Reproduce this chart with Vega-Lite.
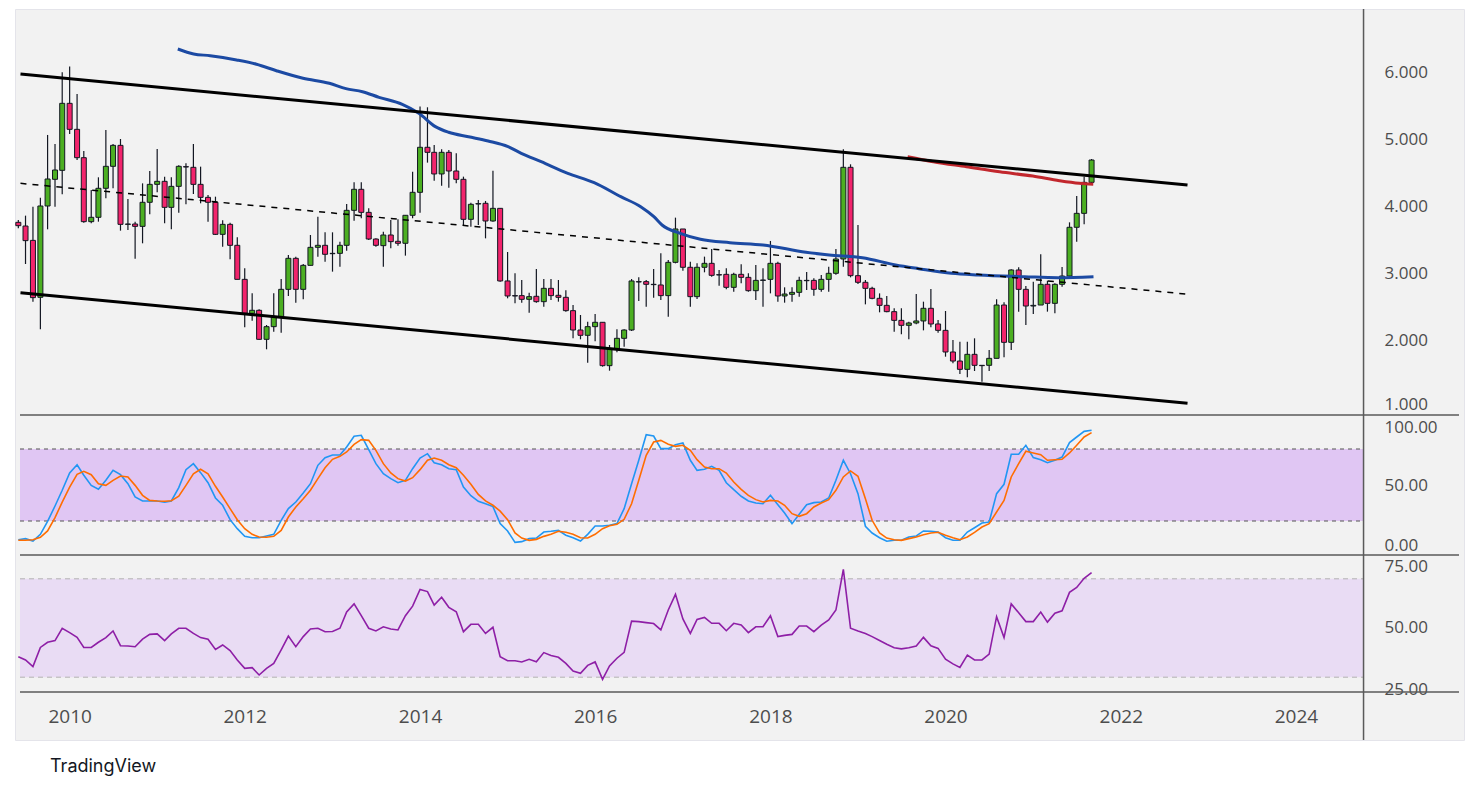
{
  "$schema": "https://vega.github.io/schema/vega-lite/v6.json",
  "width": 1449,
  "height": 731,
  "autosize": {"type": "none"},
  "padding": {"left": 15, "top": 9, "right": 15, "bottom": 53},
  "background": "#ffffff",
  "title": {"text": "TradingView", "orient": "bottom", "anchor": "start", "dx": 35, "offset": 17, "font": "Inter", "fontSize": 18, "fontWeight": "normal", "color": "#131722"},
  "config": {
    "view": {"fill": "#f2f2f2", "stroke": "#e4e4ea"},
    "axis": {"domain": false, "ticks": false, "tickSize": 0, "grid": false, "labelFont": "Open Sans", "labelFontSize": 19, "labelColor": "#4d4d4d", "labelFlush": false, "labelBound": false, "labelOverlap": false},
    "axisY": {"labelFontSize": 17}
  },
  "datasets": {
    "bars": [
      {"d":"2009-06-01","o":3.771,"h":3.806,"l":3.682,"c":3.721,"sk":4.4,"sd":3.9,"rsi":38.3},
      {"d":"2009-07-01","o":3.716,"h":3.871,"l":3.149,"c":3.498,"sk":5.3,"sd":3.9,"rsi":37},
      {"d":"2009-08-01","o":3.502,"h":4.005,"l":2.587,"c":2.647,"sk":3.3,"sd":4.4,"rsi":34.3},
      {"d":"2009-09-01","o":2.652,"h":4.139,"l":2.174,"c":4.015,"sk":8.9,"sd":6.4,"rsi":42.1},
      {"d":"2009-10-01","o":4.015,"h":5.075,"l":3.667,"c":4.418,"sk":19.7,"sd":11.7,"rsi":44.2},
      {"d":"2009-11-01","o":4.413,"h":4.94,"l":4.005,"c":4.552,"sk":32.5,"sd":22.8,"rsi":44.9},
      {"d":"2009-12-01","o":4.547,"h":6.01,"l":4.189,"c":5.547,"sk":45.6,"sd":35.8,"rsi":49.9},
      {"d":"2010-01-01","o":5.547,"h":6.095,"l":5.09,"c":5.159,"sk":60,"sd":48.3,"rsi":48.1},
      {"d":"2010-02-01","o":5.159,"h":5.687,"l":4.701,"c":4.736,"sk":66.9,"sd":58.9,"rsi":46.2},
      {"d":"2010-03-01","o":4.736,"h":4.836,"l":3.766,"c":3.781,"sk":58.1,"sd":61.4,"rsi":42.1},
      {"d":"2010-04-01","o":3.781,"h":4.254,"l":3.756,"c":3.846,"sk":49.7,"sd":58.6,"rsi":42.1},
      {"d":"2010-05-01","o":3.846,"h":4.443,"l":3.781,"c":4.279,"sk":46.4,"sd":51.1,"rsi":44.2},
      {"d":"2010-06-01","o":4.279,"h":5.149,"l":4.129,"c":4.607,"sk":53.9,"sd":49.7,"rsi":46.1},
      {"d":"2010-07-01","o":4.607,"h":4.94,"l":4.279,"c":4.92,"sk":62.2,"sd":53.9,"rsi":48.8},
      {"d":"2010-08-01","o":4.92,"h":5.015,"l":3.647,"c":3.741,"sk":58.6,"sd":57.5,"rsi":42.8},
      {"d":"2010-09-01","o":3.741,"h":4.119,"l":3.657,"c":3.746,"sk":51.1,"sd":56.7,"rsi":42.7},
      {"d":"2010-10-01","o":3.746,"h":3.781,"l":3.229,"c":3.711,"sk":40,"sd":49.7,"rsi":42.4},
      {"d":"2010-11-01","o":3.711,"h":4.353,"l":3.458,"c":4.07,"sk":36.7,"sd":41.4,"rsi":45.5},
      {"d":"2010-12-01","o":4.07,"h":4.537,"l":3.891,"c":4.338,"sk":36.7,"sd":37.2,"rsi":47.4},
      {"d":"2011-01-01","o":4.338,"h":4.866,"l":4.219,"c":4.383,"sk":36.7,"sd":36.7,"rsi":47.6},
      {"d":"2011-02-01","o":4.383,"h":4.453,"l":3.756,"c":3.995,"sk":35.6,"sd":36.4,"rsi":44.9},
      {"d":"2011-03-01","o":3.995,"h":4.443,"l":3.667,"c":4.308,"sk":36.7,"sd":36.9,"rsi":47.6},
      {"d":"2011-04-01","o":4.308,"h":4.622,"l":3.915,"c":4.607,"sk":47.8,"sd":40.6,"rsi":49.9},
      {"d":"2011-05-01","o":4.602,"h":4.652,"l":4.04,"c":4.597,"sk":62.8,"sd":49.7,"rsi":49.9},
      {"d":"2011-06-01","o":4.592,"h":4.94,"l":4.194,"c":4.338,"sk":67.8,"sd":59.4,"rsi":47.8},
      {"d":"2011-07-01","o":4.338,"h":4.602,"l":4.055,"c":4.144,"sk":60.3,"sd":63.1,"rsi":46.1},
      {"d":"2011-08-01","o":4.144,"h":4.179,"l":3.781,"c":4.07,"sk":51.9,"sd":59.4,"rsi":45.4},
      {"d":"2011-09-01","o":4.07,"h":4.154,"l":3.582,"c":3.592,"sk":39.2,"sd":48.9,"rsi":41.3},
      {"d":"2011-10-01","o":3.592,"h":3.801,"l":3.408,"c":3.741,"sk":33.1,"sd":40,"rsi":43.1},
      {"d":"2011-11-01","o":3.741,"h":3.766,"l":3.219,"c":3.428,"sk":21.1,"sd":30.3,"rsi":40.8},
      {"d":"2011-12-01","o":3.428,"h":3.547,"l":2.92,"c":2.92,"sk":13.6,"sd":21.1,"rsi":37},
      {"d":"2012-01-01","o":2.92,"h":3.085,"l":2.204,"c":2.413,"sk":7.2,"sd":13.6,"rsi":33.6},
      {"d":"2012-02-01","o":2.413,"h":2.711,"l":2.303,"c":2.458,"sk":6.1,"sd":8.9,"rsi":33.9},
      {"d":"2012-03-01","o":2.458,"h":2.473,"l":2.015,"c":2.025,"sk":6.1,"sd":6.7,"rsi":30.9},
      {"d":"2012-04-01","o":2.025,"h":2.239,"l":1.876,"c":2.214,"sk":7.5,"sd":6.4,"rsi":33.6},
      {"d":"2012-05-01","o":2.214,"h":2.711,"l":2.139,"c":2.353,"sk":8.9,"sd":7.2,"rsi":35.6},
      {"d":"2012-06-01","o":2.353,"h":2.925,"l":2.124,"c":2.771,"sk":20.6,"sd":12.2,"rsi":41.1},
      {"d":"2012-07-01","o":2.771,"h":3.284,"l":2.672,"c":3.234,"sk":30.3,"sd":23.3,"rsi":46.7},
      {"d":"2012-08-01","o":3.234,"h":3.259,"l":2.572,"c":2.771,"sk":35.8,"sd":31.7,"rsi":42.4},
      {"d":"2012-09-01","o":2.771,"h":3.149,"l":2.622,"c":3.129,"sk":43.3,"sd":38.6,"rsi":46.5},
      {"d":"2012-10-01","o":3.129,"h":3.582,"l":3.129,"c":3.398,"sk":51.1,"sd":45.6,"rsi":49.6},
      {"d":"2012-11-01","o":3.398,"h":3.856,"l":3.259,"c":3.428,"sk":66.4,"sd":55.3,"rsi":49.9},
      {"d":"2012-12-01","o":3.428,"h":3.622,"l":3.184,"c":3.294,"sk":72.8,"sd":64.4,"rsi":48.5},
      {"d":"2013-01-01","o":3.303,"h":3.622,"l":3.035,"c":3.308,"sk":75,"sd":71.4,"rsi":48.6},
      {"d":"2013-02-01","o":3.308,"h":3.483,"l":3.109,"c":3.428,"sk":75,"sd":73.9,"rsi":49.9},
      {"d":"2013-03-01","o":3.428,"h":4.045,"l":3.348,"c":3.95,"sk":81.7,"sd":77.5,"rsi":56.5},
      {"d":"2013-04-01","o":3.95,"h":4.368,"l":3.796,"c":4.264,"sk":90.6,"sd":83.9,"rsi":59.8},
      {"d":"2013-05-01","o":4.264,"h":4.368,"l":3.831,"c":3.92,"sk":91.4,"sd":87.8,"rsi":55},
      {"d":"2013-06-01","o":3.92,"h":3.98,"l":3.507,"c":3.522,"sk":79.4,"sd":87.2,"rsi":49.9},
      {"d":"2013-07-01","o":3.522,"h":3.532,"l":3.408,"c":3.428,"sk":67.8,"sd":78.9,"rsi":48.8},
      {"d":"2013-08-01","o":3.423,"h":3.632,"l":3.109,"c":3.582,"sk":59.4,"sd":67.8,"rsi":50.5},
      {"d":"2013-09-01","o":3.582,"h":3.806,"l":3.383,"c":3.483,"sk":55.3,"sd":60,"rsi":49.6},
      {"d":"2013-10-01","o":3.488,"h":3.816,"l":3.423,"c":3.458,"sk":51.9,"sd":55.3,"rsi":49.2},
      {"d":"2013-11-01","o":3.458,"h":3.876,"l":3.274,"c":3.876,"sk":53.9,"sd":53.3,"rsi":55},
      {"d":"2013-12-01","o":3.876,"h":4.527,"l":3.831,"c":4.219,"sk":63.6,"sd":56.1,"rsi":58.9},
      {"d":"2014-01-01","o":4.219,"h":5.498,"l":3.915,"c":4.891,"sk":72.5,"sd":62.8,"rsi":65.7},
      {"d":"2014-02-01","o":4.891,"h":5.488,"l":4.662,"c":4.816,"sk":76.1,"sd":70.6,"rsi":64.8},
      {"d":"2014-03-01","o":4.816,"h":4.925,"l":4.393,"c":4.493,"sk":68.6,"sd":72.5,"rsi":59.3},
      {"d":"2014-04-01","o":4.493,"h":4.861,"l":4.318,"c":4.816,"sk":66.9,"sd":70.6,"rsi":62.5},
      {"d":"2014-05-01","o":4.816,"h":4.851,"l":4.289,"c":4.537,"sk":63.6,"sd":66.9,"rsi":58.4},
      {"d":"2014-06-01","o":4.537,"h":4.801,"l":4.353,"c":4.413,"sk":62.8,"sd":64.4,"rsi":56.6},
      {"d":"2014-07-01","o":4.413,"h":4.453,"l":3.731,"c":3.816,"sk":48.3,"sd":58.1,"rsi":48.5},
      {"d":"2014-08-01","o":3.816,"h":4.065,"l":3.706,"c":4.04,"sk":41.1,"sd":50.6,"rsi":51.5},
      {"d":"2014-09-01","o":4.045,"h":4.104,"l":3.731,"c":4.05,"sk":36.4,"sd":42.2,"rsi":51.5},
      {"d":"2014-10-01","o":4.055,"h":4.09,"l":3.532,"c":3.791,"sk":34.3,"sd":36.7,"rsi":47.8},
      {"d":"2014-11-01","o":3.791,"h":4.542,"l":3.781,"c":3.98,"sk":32,"sd":33.1,"rsi":50.3},
      {"d":"2014-12-01","o":3.98,"h":3.98,"l":2.886,"c":2.896,"sk":17.8,"sd":28.2,"rsi":38.3},
      {"d":"2015-01-01","o":2.896,"h":3.328,"l":2.637,"c":2.672,"sk":11.7,"sd":21.1,"rsi":36.7},
      {"d":"2015-02-01","o":2.677,"h":3.01,"l":2.562,"c":2.672,"sk":2.2,"sd":10,"rsi":36.7},
      {"d":"2015-03-01","o":2.677,"h":2.91,"l":2.572,"c":2.622,"sk":2.8,"sd":5.8,"rsi":36.2},
      {"d":"2015-04-01","o":2.622,"h":2.721,"l":2.423,"c":2.662,"sk":5.3,"sd":3.9,"rsi":37.3},
      {"d":"2015-05-01","o":2.667,"h":3.075,"l":2.572,"c":2.587,"sk":5.8,"sd":4.7,"rsi":36.3},
      {"d":"2015-06-01","o":2.587,"h":2.925,"l":2.512,"c":2.786,"sk":10.8,"sd":7.2,"rsi":40},
      {"d":"2015-07-01","o":2.786,"h":2.925,"l":2.612,"c":2.677,"sk":11.4,"sd":8.9,"rsi":38.8},
      {"d":"2015-08-01","o":2.682,"h":2.91,"l":2.587,"c":2.652,"sk":12.2,"sd":11.4,"rsi":38.1},
      {"d":"2015-09-01","o":2.652,"h":2.756,"l":2.438,"c":2.453,"sk":8.1,"sd":10.6,"rsi":35.6},
      {"d":"2015-10-01","o":2.453,"h":2.537,"l":2.04,"c":2.164,"sk":6.1,"sd":8.9,"rsi":32.5},
      {"d":"2015-11-01","o":2.164,"h":2.388,"l":2.025,"c":2.085,"sk":3.3,"sd":6.1,"rsi":31.6},
      {"d":"2015-12-01","o":2.085,"h":2.289,"l":1.677,"c":2.214,"sk":8.9,"sd":5.8,"rsi":34.8},
      {"d":"2016-01-01","o":2.214,"h":2.403,"l":1.995,"c":2.279,"sk":15.8,"sd":8.9,"rsi":36.2},
      {"d":"2016-02-01","o":2.279,"h":2.279,"l":1.617,"c":1.632,"sk":15.8,"sd":13.6,"rsi":29.1},
      {"d":"2016-03-01","o":1.632,"h":1.94,"l":1.557,"c":1.881,"sk":16.4,"sd":16.1,"rsi":34.6},
      {"d":"2016-04-01","o":1.881,"h":2.174,"l":1.831,"c":2.04,"sk":17.8,"sd":17.2,"rsi":37.7},
      {"d":"2016-05-01","o":2.04,"h":2.174,"l":1.915,"c":2.164,"sk":30.3,"sd":21.4,"rsi":40.1},
      {"d":"2016-06-01","o":2.164,"h":2.925,"l":2.149,"c":2.896,"sk":51.1,"sd":34.4,"rsi":52.8},
      {"d":"2016-07-01","o":2.881,"h":2.95,"l":2.597,"c":2.886,"sk":70.6,"sd":53.9,"rsi":52.6},
      {"d":"2016-08-01","o":2.886,"h":2.91,"l":2.512,"c":2.846,"sk":91.9,"sd":74.7,"rsi":52.2},
      {"d":"2016-09-01","o":2.846,"h":3.075,"l":2.647,"c":2.841,"sk":90.8,"sd":85.8,"rsi":51.8},
      {"d":"2016-10-01","o":2.836,"h":3.308,"l":2.612,"c":2.677,"sk":80.3,"sd":87.2,"rsi":49.2},
      {"d":"2016-11-01","o":2.677,"h":3.209,"l":2.363,"c":3.174,"sk":80.3,"sd":83.9,"rsi":57.3},
      {"d":"2016-12-01","o":3.174,"h":3.841,"l":3.159,"c":3.672,"sk":83.6,"sd":82.2,"rsi":63.7},
      {"d":"2017-01-01","o":3.672,"h":3.672,"l":3.05,"c":3.1,"sk":85,"sd":83.1,"rsi":53.7},
      {"d":"2017-02-01","o":3.1,"h":3.184,"l":2.512,"c":2.662,"sk":70.6,"sd":78.9,"rsi":47.8},
      {"d":"2017-03-01","o":2.662,"h":3.159,"l":2.627,"c":3.1,"sk":62.2,"sd":71.1,"rsi":53.5},
      {"d":"2017-04-01","o":3.1,"h":3.259,"l":3.025,"c":3.159,"sk":63.1,"sd":65,"rsi":54.3},
      {"d":"2017-05-01","o":3.159,"h":3.373,"l":2.96,"c":2.98,"sk":65.6,"sd":63.6,"rsi":51.9},
      {"d":"2017-06-01","o":2.99,"h":3.06,"l":2.826,"c":2.985,"sk":62.2,"sd":63.6,"rsi":51.9},
      {"d":"2017-07-01","o":2.995,"h":3.085,"l":2.771,"c":2.801,"sk":51.9,"sd":60,"rsi":48.9},
      {"d":"2017-08-01","o":2.801,"h":3.02,"l":2.736,"c":2.995,"sk":46.1,"sd":52.5,"rsi":51.9},
      {"d":"2017-09-01","o":2.995,"h":3.144,"l":2.861,"c":2.95,"sk":40.6,"sd":46.4,"rsi":51.2},
      {"d":"2017-10-01","o":2.95,"h":3.01,"l":2.736,"c":2.751,"sk":36.7,"sd":41.4,"rsi":48.1},
      {"d":"2017-11-01","o":2.751,"h":3.134,"l":2.612,"c":2.905,"sk":35,"sd":37.8,"rsi":50.5},
      {"d":"2017-12-01","o":2.905,"h":3.085,"l":2.512,"c":2.91,"sk":34.4,"sd":35.8,"rsi":50.5},
      {"d":"2018-01-01","o":2.92,"h":3.493,"l":2.711,"c":3.159,"sk":41.4,"sd":37.2,"rsi":55},
      {"d":"2018-02-01","o":3.159,"h":3.184,"l":2.587,"c":2.672,"sk":33.6,"sd":36.7,"rsi":46.5},
      {"d":"2018-03-01","o":2.672,"h":2.801,"l":2.572,"c":2.701,"sk":26.7,"sd":33.1,"rsi":47},
      {"d":"2018-04-01","o":2.697,"h":2.801,"l":2.587,"c":2.726,"sk":17.8,"sd":26.1,"rsi":47.4},
      {"d":"2018-05-01","o":2.726,"h":2.96,"l":2.662,"c":2.905,"sk":25.6,"sd":23.9,"rsi":50.8},
      {"d":"2018-06-01","o":2.9,"h":3.03,"l":2.761,"c":2.905,"sk":33.6,"sd":26.1,"rsi":50.8},
      {"d":"2018-07-01","o":2.905,"h":2.935,"l":2.677,"c":2.771,"sk":35.3,"sd":31.7,"rsi":48.5},
      {"d":"2018-08-01","o":2.771,"h":2.985,"l":2.736,"c":2.92,"sk":35.8,"sd":35,"rsi":51.2},
      {"d":"2018-09-01","o":2.92,"h":3.109,"l":2.736,"c":3.01,"sk":39.2,"sd":37.8,"rsi":53.3},
      {"d":"2018-10-01","o":3.01,"h":3.373,"l":2.99,"c":3.224,"sk":53.9,"sd":45.6,"rsi":57.3},
      {"d":"2018-11-01","o":3.224,"h":4.861,"l":3.109,"c":4.592,"sk":70.6,"sd":56.7,"rsi":73.8},
      {"d":"2018-12-01","o":4.592,"h":4.637,"l":2.95,"c":2.975,"sk":59.4,"sd":61.7,"rsi":49.9},
      {"d":"2019-01-01","o":2.975,"h":3.731,"l":2.851,"c":2.876,"sk":42.8,"sd":57.2,"rsi":48.8},
      {"d":"2019-02-01","o":2.876,"h":2.91,"l":2.547,"c":2.786,"sk":15.6,"sd":38.6,"rsi":47.8},
      {"d":"2019-03-01","o":2.786,"h":2.811,"l":2.622,"c":2.637,"sk":10,"sd":20.6,"rsi":46.5},
      {"d":"2019-04-01","o":2.637,"h":2.711,"l":2.428,"c":2.532,"sk":6.1,"sd":10,"rsi":44.9},
      {"d":"2019-05-01","o":2.532,"h":2.672,"l":2.428,"c":2.438,"sk":3.1,"sd":5.8,"rsi":43.4},
      {"d":"2019-06-01","o":2.438,"h":2.488,"l":2.139,"c":2.308,"sk":3.9,"sd":4.4,"rsi":42},
      {"d":"2019-07-01","o":2.308,"h":2.488,"l":2.1,"c":2.234,"sk":3.9,"sd":3.9,"rsi":41.5},
      {"d":"2019-08-01","o":2.234,"h":2.289,"l":2.025,"c":2.269,"sk":6.7,"sd":5.3,"rsi":42},
      {"d":"2019-09-01","o":2.269,"h":2.701,"l":2.249,"c":2.299,"sk":7.5,"sd":6.7,"rsi":42.7},
      {"d":"2019-10-01","o":2.299,"h":2.587,"l":2.159,"c":2.488,"sk":11.7,"sd":8.6,"rsi":46.2},
      {"d":"2019-11-01","o":2.488,"h":2.776,"l":2.204,"c":2.254,"sk":11.4,"sd":10,"rsi":42.8},
      {"d":"2019-12-01","o":2.254,"h":2.313,"l":2.124,"c":2.159,"sk":10.8,"sd":10.6,"rsi":41.7},
      {"d":"2020-01-01","o":2.159,"h":2.448,"l":1.766,"c":1.836,"sk":6.1,"sd":8.1,"rsi":37.3},
      {"d":"2020-02-01","o":1.836,"h":2.015,"l":1.667,"c":1.701,"sk":3.9,"sd":6.1,"rsi":35.4},
      {"d":"2020-03-01","o":1.701,"h":1.99,"l":1.507,"c":1.577,"sk":3.9,"sd":4.4,"rsi":34},
      {"d":"2020-04-01","o":1.577,"h":1.99,"l":1.458,"c":1.801,"sk":10.8,"sd":6.7,"rsi":39},
      {"d":"2020-05-01","o":1.801,"h":2.04,"l":1.552,"c":1.637,"sk":14.4,"sd":10.5,"rsi":37},
      {"d":"2020-06-01","o":1.637,"h":1.637,"l":1.393,"c":1.632,"sk":18.3,"sd":15,"rsi":37},
      {"d":"2020-07-01","o":1.637,"h":1.866,"l":1.552,"c":1.741,"sk":19.2,"sd":17.8,"rsi":39.4},
      {"d":"2020-08-01","o":1.741,"h":2.622,"l":1.741,"c":2.537,"sk":42.8,"sd":27.5,"rsi":54.6},
      {"d":"2020-09-01","o":2.537,"h":2.577,"l":1.756,"c":1.98,"sk":50.6,"sd":37.2,"rsi":46.1},
      {"d":"2020-10-01","o":1.98,"h":3.07,"l":1.866,"c":3.06,"sk":75.6,"sd":56.7,"rsi":59.8},
      {"d":"2020-11-01","o":3.06,"h":3.1,"l":2.438,"c":2.771,"sk":75.6,"sd":67.8,"rsi":56.2},
      {"d":"2020-12-01","o":2.771,"h":2.821,"l":2.239,"c":2.522,"sk":83.1,"sd":78.1,"rsi":52.6},
      {"d":"2021-01-01","o":2.522,"h":2.886,"l":2.403,"c":2.532,"sk":72.8,"sd":76.7,"rsi":52.6},
      {"d":"2021-02-01","o":2.537,"h":3.294,"l":2.537,"c":2.846,"sk":71.1,"sd":75.3,"rsi":56.5},
      {"d":"2021-03-01","o":2.846,"h":2.9,"l":2.438,"c":2.562,"sk":68.6,"sd":70.6,"rsi":52.4},
      {"d":"2021-04-01","o":2.562,"h":2.861,"l":2.413,"c":2.846,"sk":70.6,"sd":71.1,"rsi":56},
      {"d":"2021-05-01","o":2.846,"h":3.104,"l":2.811,"c":2.97,"sk":73.3,"sd":71.4,"rsi":57},
      {"d":"2021-06-01","o":2.97,"h":3.771,"l":2.935,"c":3.697,"sk":85.3,"sd":76.7,"rsi":64.5},
      {"d":"2021-07-01","o":3.697,"h":4.164,"l":3.483,"c":3.905,"sk":90,"sd":83.1,"rsi":66.5},
      {"d":"2021-08-01","o":3.905,"h":4.453,"l":3.741,"c":4.368,"sk":94.7,"sd":90,"rsi":70.2},
      {"d":"2021-09-01","o":4.368,"h":4.716,"l":4.328,"c":4.701,"sk":95.6,"sd":93.6,"rsi":72.5}
    ],
    "ch": [
      {"d":"2009-06-10","up":5.985,"lo":2.721,"mid":4.353},
      {"d":"2022-10-06","up":4.328,"lo":1.07,"mid":2.699}
    ],
    "ma": [
      {"d":"2011-03-28","v":6.358},{"d":"2011-06-02","v":6.284},{"d":"2011-08-10","v":6.258},
      {"d":"2011-11-28","v":6.194},{"d":"2012-02-19","v":6.13},{"d":"2012-05-12","v":6.034},
      {"d":"2012-08-31","v":5.921},{"d":"2012-12-19","v":5.846},{"d":"2013-02-26","v":5.766},
      {"d":"2013-05-06","v":5.721},{"d":"2013-07-14","v":5.637},{"d":"2013-10-19","v":5.533},
      {"d":"2013-12-27","v":5.399},{"d":"2014-03-06","v":5.199},{"d":"2014-04-30","v":5.115},
      {"d":"2014-07-22","v":5.049},{"d":"2014-10-12","v":4.985},{"d":"2015-01-03","v":4.9},
      {"d":"2015-02-27","v":4.801},{"d":"2015-05-21","v":4.676},{"d":"2015-09-09","v":4.503},
      {"d":"2015-12-28","v":4.363},{"d":"2016-04-17","v":4.154},{"d":"2016-07-09","v":4.004},
      {"d":"2016-09-02","v":3.855},{"d":"2016-10-06","v":3.731},{"d":"2016-12-21","v":3.607},
      {"d":"2017-03-15","v":3.518},{"d":"2017-07-16","v":3.467},{"d":"2017-12-01","v":3.433},
      {"d":"2018-05-29","v":3.324},{"d":"2018-09-03","v":3.284},{"d":"2019-01-19","v":3.243},
      {"d":"2019-06-07","v":3.134},{"d":"2019-09-11","v":3.079},{"d":"2020-01-26","v":3.01},
      {"d":"2020-05-17","v":2.985},{"d":"2020-11-26","v":2.96},{"d":"2021-04-13","v":2.945},
      {"d":"2021-09-09","v":2.96}
    ],
    "ma2": [
      {"d":"2019-07-27","v":4.751},{"d":"2019-11-11","v":4.676},{"d":"2020-03-28","v":4.601},
      {"d":"2020-08-14","v":4.525},{"d":"2020-12-30","v":4.461},{"d":"2021-04-20","v":4.393},
      {"d":"2021-07-12","v":4.354},{"d":"2021-09-08","v":4.339}
    ],
    "bands": [
      {"pane":"stoch","d":"2009-06-08","d2":"2024-10-09","lo":20,"hi":80},
      {"pane":"rsi","d":"2009-06-08","d2":"2024-10-09","lo":30,"hi":70}
    ],
    "levels": [
      {"pane":"stoch","d":"2009-06-08","d2":"2024-10-09","v":20},
      {"pane":"stoch","d":"2009-06-08","d2":"2024-10-09","v":80},
      {"pane":"rsi","d":"2009-06-08","d2":"2024-10-09","v":30},
      {"pane":"rsi","d":"2009-06-08","d2":"2024-10-09","v":70}
    ],
    "seps": [
      {"pane":"price","d":"2009-06-08","d2":"2025-11-11","v":0.8955},
      {"pane":"stoch","d":"2009-06-08","d2":"2025-11-11","v":-8.33},
      {"pane":"rsi","d":"2009-06-08","d2":"2025-11-11","v":23.98}
    ],
    "edge": [{"d":"2024-10-09"}]
  },
  "encoding": {
    "x": {"field": "d", "type": "temporal", "title": null,
          "scale": {"domain": [{"year": 2009, "month": 6, "date": 8}, {"year": 2025, "month": 11, "date": 11}]},
          "axis": {"orient": "bottom", "offset": -48, "labelPadding": 15, "format": "%Y", "tickCount": {"interval": "year", "step": 2}}}
  },
  "layer": [
    {
      "layer": [
        {
          "data": {"name": "bars"},
          "mark": {"type": "rule", "color": "#131722", "strokeWidth": 1.2, "clip": true},
          "encoding": {
            "y": {"field": "l", "type": "quantitative", "title": null,
                  "scale": {"domain": [-3.955, 6.955], "zero": false, "nice": false},
                  "axis": {"orient": "right", "offset": -96, "labelPadding": 16, "values": [1, 2, 3, 4, 5, 6], "format": ".3f",
                           "labelOffset": {"condition": {"test": "datum.value == 1", "value": -4}, "value": 0}}},
            "y2": {"field": "h"}
          }
        },
        {
          "data": {"name": "bars"},
          "mark": {"type": "bar", "size": 5, "stroke": "#131722", "strokeWidth": 1, "clip": true},
          "encoding": {
            "y": {"field": "o", "type": "quantitative", "title": null},
            "y2": {"field": "c"},
            "color": {"condition": {"test": "datum.c >= datum.o", "value": "#4caf22"}, "value": "#f2246c"}
          }
        },
        {
          "data": {"name": "ma"},
          "mark": {"type": "line", "color": "#1c4aa3", "strokeWidth": 3, "interpolate": "monotone", "clip": true},
          "encoding": {"y": {"field": "v", "type": "quantitative", "title": null}}
        },
        {
          "data": {"name": "ma2"},
          "mark": {"type": "line", "color": "#c2272d", "strokeWidth": 3, "interpolate": "monotone", "clip": true},
          "encoding": {"y": {"field": "v", "type": "quantitative", "title": null}}
        },
        {
          "data": {"name": "ch"},
          "mark": {"type": "line", "color": "#000000", "strokeWidth": 3, "clip": true},
          "encoding": {"y": {"field": "up", "type": "quantitative", "title": null}}
        },
        {
          "data": {"name": "ch"},
          "mark": {"type": "line", "color": "#000000", "strokeWidth": 3, "clip": true},
          "encoding": {"y": {"field": "lo", "type": "quantitative", "title": null}}
        },
        {
          "data": {"name": "ch"},
          "mark": {"type": "line", "color": "#000000", "strokeWidth": 1.5, "strokeDash": [6, 6], "clip": true},
          "encoding": {"y": {"field": "mid", "type": "quantitative", "title": null}}
        },
        {
          "data": {"name": "seps"},
          "transform": [{"filter": "datum.pane == 'price'"}],
          "mark": {"type": "rule", "color": "#5a5a5a", "strokeWidth": 1.5},
          "encoding": {
            "x2": {"field": "d2"},
            "y": {"field": "v", "type": "quantitative", "title": null}
          }
        }
      ]
    },
    {
      "layer": [
        {
          "data": {"name": "bands"},
          "transform": [{"filter": "datum.pane == 'stoch'"}],
          "mark": {"type": "rect", "color": "#e0c6f3"},
          "encoding": {
            "x2": {"field": "d2"},
            "y": {"field": "lo", "type": "quantitative", "title": null,
                  "scale": {"domain": [-162.5, 446.67], "zero": false, "nice": false},
                  "axis": {"orient": "right", "offset": -96, "labelPadding": 16, "values": [0, 50, 100], "format": ".2f",
                           "labelOffset": {"condition": {"test": "datum.value == 100", "value": 2}, "value": 0}}},
            "y2": {"field": "hi"}
          }
        },
        {
          "data": {"name": "levels"},
          "transform": [{"filter": "datum.pane == 'stoch'"}],
          "mark": {"type": "rule", "color": "#555555", "strokeWidth": 1, "strokeDash": [4, 4]},
          "encoding": {
            "x2": {"field": "d2"},
            "y": {"field": "v", "type": "quantitative", "title": null}
          }
        },
        {
          "data": {"name": "bars"},
          "mark": {"type": "line", "color": "#2196f3", "strokeWidth": 1.6, "clip": true},
          "encoding": {"y": {"field": "sk", "type": "quantitative", "title": null}}
        },
        {
          "data": {"name": "bars"},
          "mark": {"type": "line", "color": "#ff6d00", "strokeWidth": 1.6, "clip": true},
          "encoding": {"y": {"field": "sd", "type": "quantitative", "title": null}}
        },
        {
          "data": {"name": "seps"},
          "transform": [{"filter": "datum.pane == 'stoch'"}],
          "mark": {"type": "rule", "color": "#5a5a5a", "strokeWidth": 1.5},
          "encoding": {
            "x2": {"field": "d2"},
            "y": {"field": "v", "type": "quantitative", "title": null}
          }
        }
      ]
    },
    {
      "layer": [
        {
          "data": {"name": "bands"},
          "transform": [{"filter": "datum.pane == 'rsi'"}],
          "mark": {"type": "rect", "color": "#e9dcf4"},
          "encoding": {
            "x2": {"field": "d2"},
            "y": {"field": "lo", "type": "quantitative", "title": null,
                  "scale": {"domain": [4.47, 301.63], "zero": false, "nice": false},
                  "axis": {"orient": "right", "offset": -96, "labelPadding": 16, "values": [25, 50, 75], "format": ".2f"}},
            "y2": {"field": "hi"}
          }
        },
        {
          "data": {"name": "levels"},
          "transform": [{"filter": "datum.pane == 'rsi'"}],
          "mark": {"type": "rule", "color": "#b3b3b3", "strokeWidth": 1, "strokeDash": [5, 4]},
          "encoding": {
            "x2": {"field": "d2"},
            "y": {"field": "v", "type": "quantitative", "title": null}
          }
        },
        {
          "data": {"name": "bars"},
          "mark": {"type": "line", "color": "#8e1fa6", "strokeWidth": 1.6, "clip": true},
          "encoding": {"y": {"field": "rsi", "type": "quantitative", "title": null}}
        },
        {
          "data": {"name": "seps"},
          "transform": [{"filter": "datum.pane == 'rsi'"}],
          "mark": {"type": "rule", "color": "#5a5a5a", "strokeWidth": 1.5},
          "encoding": {
            "x2": {"field": "d2"},
            "y": {"field": "v", "type": "quantitative", "title": null}
          }
        }
      ]
    },
    {
      "data": {"name": "edge"},
      "mark": {"type": "rule", "color": "#5a5a5a", "strokeWidth": 1.5},
      "encoding": {}
    }
  ],
  "resolve": {"scale": {"y": "independent"}, "axis": {"y": "independent"}}
}
